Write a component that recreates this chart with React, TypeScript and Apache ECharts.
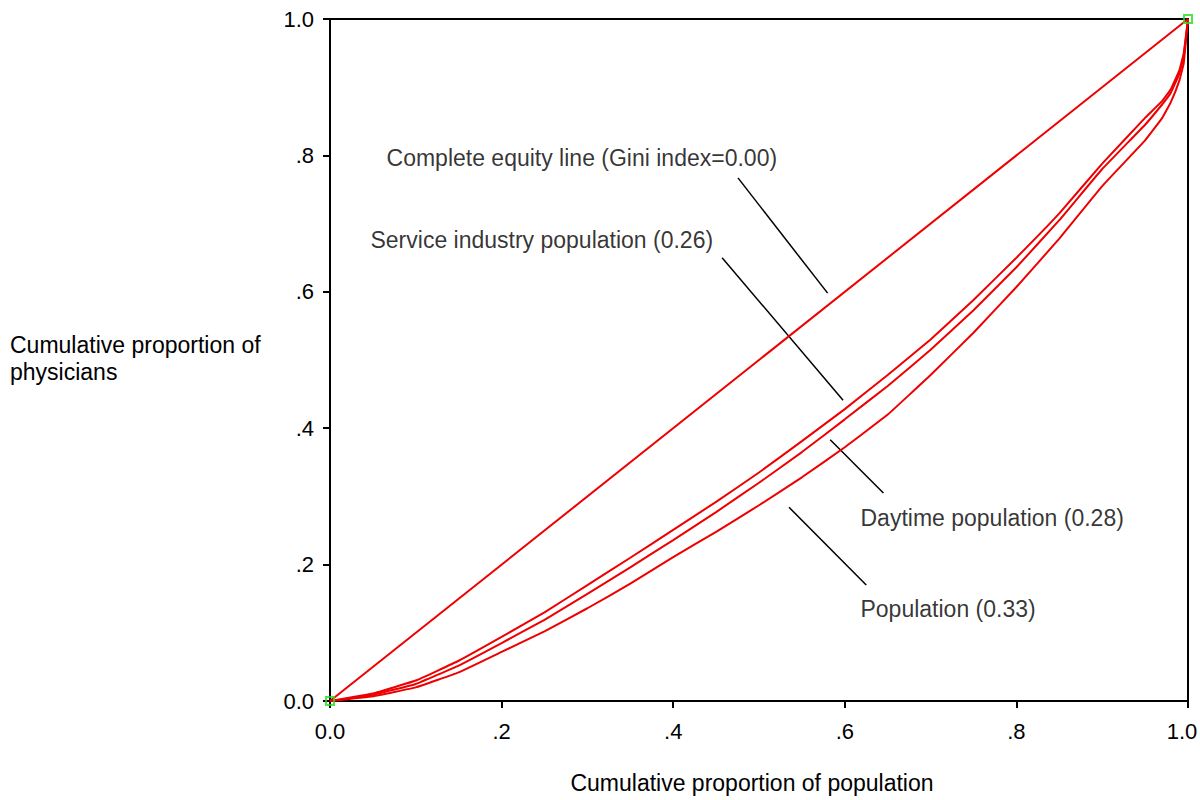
import React, { useEffect, useRef } from "react";
import * as echarts from "echarts";

// Cumulative proportion of population (x)
const xs = [0, 0.05, 0.1, 0.15, 0.2, 0.25, 0.3, 0.35, 0.4, 0.45, 0.5, 0.55, 0.6, 0.65, 0.7, 0.75, 0.8, 0.85, 0.9, 0.95, 0.97, 0.98, 0.99, 0.995, 1];
// Cumulative proportion of physicians per curve
const serviceIndustry = [0, 0.011, 0.030, 0.059, 0.094, 0.130, 0.170, 0.210, 0.251, 0.292, 0.335, 0.381, 0.428, 0.478, 0.530, 0.588, 0.650, 0.715, 0.788, 0.855, 0.880, 0.897, 0.925, 0.950, 1];
const daytime = [0, 0.009, 0.025, 0.052, 0.085, 0.119, 0.157, 0.196, 0.236, 0.277, 0.320, 0.365, 0.413, 0.462, 0.515, 0.573, 0.636, 0.705, 0.780, 0.845, 0.875, 0.892, 0.920, 0.945, 1];
const population = [0, 0.007, 0.020, 0.042, 0.072, 0.102, 0.136, 0.172, 0.211, 0.248, 0.287, 0.328, 0.372, 0.420, 0.478, 0.540, 0.607, 0.678, 0.755, 0.822, 0.855, 0.878, 0.910, 0.935, 1];
const equityLine = [[0, 0], [1, 1]];

const tickLabels: Record<string, string> = { "0": "0.0", "0.2": ".2", "0.4": ".4", "0.6": ".6", "0.8": ".8", "1": "1.0" };

// Annotations (data coordinates): label anchor (left, middle) and leader line
const annLabels = ["Complete equity line (Gini index=0.00)", "Service industry population (0.26)", "Daytime population (0.28)", "Population (0.33)"];
const annAnchors = [[0.0653, 0.796], [0.0466, 0.676], [0.6177, 0.268], [0.6177, 0.135]];
const annLeaders = [
  [[0.4755, 0.767], [0.580, 0.598]],
  [[0.457, 0.650], [0.598, 0.441]],
  [[0.583, 0.383], [0.645, 0.305]],
  [[0.535, 0.284], [0.625, 0.170]],
];

const FONT = "Liberation Sans, Arial, Helvetica, sans-serif";

export default function App() {
  const ref = useRef<HTMLDivElement>(null);
  useEffect(() => {
    if (!ref.current) return;
    const chart = echarts.init(ref.current, undefined, { renderer: "svg" });
    const red = "#ee0000";
    const curve = (name: string, ys: number[]) => ({
      name,
      type: "line",
      data: xs.map((x, i) => [x, ys[i]]),
      showSymbol: false,
      symbol: "none",
      smooth: 0.08,
      lineStyle: { color: red, width: 2 },
      z: 3,
    });
    const fmt = (v: number) => tickLabels[String(+v.toFixed(1))] ?? "";
    const xfmt = (v: number) => (v >= 0.999 ? "{m|" + fmt(v) + "}" : fmt(v));
    chart.setOption({
      animation: false,
      backgroundColor: "#fff",
      textStyle: { fontFamily: FONT },
      grid: {
        left: 330, top: 19, width: 858, height: 682,
        outerBoundsMode: "none", containLabel: false,
        show: true, borderColor: "#000", borderWidth: 2, backgroundColor: "transparent",
      },
      xAxis: {
        type: "value", min: 0, max: 1, interval: 0.2,
        name: "Cumulative proportion of population",
        nameLocation: "middle", nameGap: 70,
        nameTextStyle: { color: "#000", fontSize: 23, fontFamily: FONT, padding: [0, 14, 0, 0] },
        axisLine: { lineStyle: { color: "#000", width: 2 } },
        axisTick: { show: true, length: 7, lineStyle: { color: "#000", width: 2 } },
        axisLabel: {
          color: "#000", fontSize: 22, fontFamily: FONT, margin: 19, formatter: xfmt,
          rich: { m: { color: "#000", fontSize: 22, fontFamily: FONT, padding: [0, 12, 0, 0] } },
        },
        splitLine: { show: false },
      },
      yAxis: {
        type: "value", min: 0, max: 1, interval: 0.2,
        axisLine: { show: true, lineStyle: { color: "#000", width: 2 } },
        axisTick: { show: true, length: 7, lineStyle: { color: "#000", width: 2 } },
        axisLabel: { color: "#000", fontSize: 22, fontFamily: FONT, margin: 16, formatter: fmt },
        splitLine: { show: false },
      },
      graphic: [
        {
          type: "text", left: 10, top: 331,
          style: { text: "Cumulative proportion of\nphysicians", fill: "#000", fontSize: 23, fontFamily: FONT, lineHeight: 27 },
        },
      ],
      series: [
        {
          name: "Complete equity line", type: "line", data: equityLine, symbol: "none",
          lineStyle: { color: red, width: 2 }, z: 3,
        },
        curve("Service industry population", serviceIndustry),
        curve("Daytime population", daytime),
        curve("Population", population),
        ...annLeaders.map((seg, i) => ({
          name: "leader" + i, type: "line", data: seg, symbol: "none",
          lineStyle: { color: "#000", width: 1.5 }, z: 2,
        })),
        {
          name: "labels", type: "scatter", symbolSize: 1,
          itemStyle: { color: "rgba(0,0,0,0)" },
          data: annAnchors.map((p, i) => ({ value: p, name: annLabels[i] })),
          label: { show: true, position: "right", distance: 0, formatter: (p: any) => p.name, color: "#000", fontSize: 23, fontFamily: FONT },
          z: 4,
        },
        {
          name: "endpoints", type: "scatter", symbol: "rect", symbolSize: 8,
          itemStyle: { color: "rgba(0,0,0,0)", borderColor: "#22dd22", borderWidth: 2 },
          data: equityLine, z: 5,
        },
      ],
    });
    return () => chart.dispose();
  }, []);
  return <div ref={ref} style={{ position: "absolute", left: 0, top: 0, width: 1200, height: 800 }} />;
}
